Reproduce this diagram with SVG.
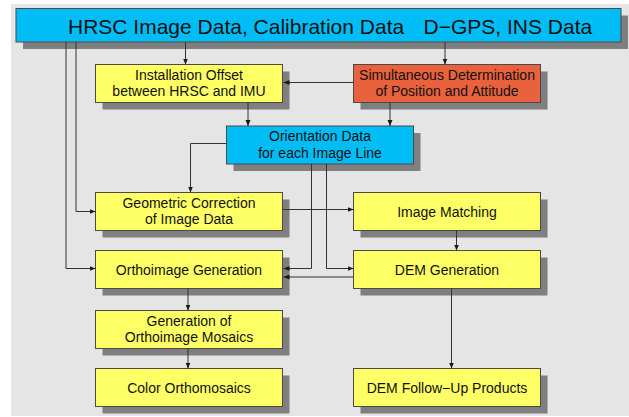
<svg xmlns="http://www.w3.org/2000/svg" width="629" height="417" viewBox="0 0 629 417">
  <defs>
    <marker id="arr" markerUnits="userSpaceOnUse" markerWidth="7" markerHeight="6" refX="6" refY="2.5" orient="auto">
      <path d="M0,0 L6,2.5 L0,5 z" fill="#1a1a1a"/>
    </marker>
  </defs>
  <style>
    .shadow { fill: #7f7f7f; }
    .box { stroke: #4a4a4a; stroke-width: 1; }
    .yellow { fill: #ffff66; }
    .blue { fill: #00bdf6; }
    .orange { fill: #e9613d; }
    .lbl { font-family: "Liberation Sans", Arial, sans-serif; font-size: 14px; fill: #111; text-anchor: middle; }
    .title { font-family: "Liberation Sans", Arial, sans-serif; font-size: 21px; fill: #111; }
    .conn { fill: none; stroke: #333; stroke-width: 1; marker-end: url(#arr); }
    .connp { fill: none; stroke: #333; stroke-width: 1; }
  </style>
  <rect x="0" y="0" width="629" height="417" fill="#ffffff"/>
  <rect x="11" y="4" width="618" height="412" fill="#e5e5e5"/>

  <g id="top">
    <rect class="shadow" x="23" y="15.5" width="605" height="33.5"/>
    <rect class="box blue" x="16" y="8.5" width="605" height="33.5"/>
    <text class="title" y="33.5"><tspan x="68">HRSC Image Data, Calibration Data</tspan><tspan x="423.5">D−GPS, INS Data</tspan></text>
  </g>

  <g id="install">
    <rect class="shadow" x="102.5" y="71.5" width="187" height="38"/>
    <rect class="box yellow" x="95.5" y="64.5" width="187" height="38"/>
    <text class="lbl" x="189" y="79.7">Installation Offset</text>
    <text class="lbl" x="189" y="96.3">between HRSC and IMU</text>
  </g>

  <g id="simul">
    <rect class="shadow" x="360.5" y="71.5" width="187" height="38"/>
    <rect class="box orange" x="353.5" y="64.5" width="187" height="38"/>
    <text class="lbl" x="447" y="79.7">Simultaneous Determination</text>
    <text class="lbl" x="447" y="96.3">of Position and Attitude</text>
  </g>

  <g id="orient">
    <rect class="shadow" x="233.5" y="133" width="187" height="38"/>
    <rect class="box blue" x="226.5" y="126" width="187" height="38"/>
    <text class="lbl" x="320" y="141.2">Orientation Data</text>
    <text class="lbl" x="320" y="157.8">for each Image Line</text>
  </g>

  <g id="geom">
    <rect class="shadow" x="102.5" y="199.5" width="187" height="38"/>
    <rect class="box yellow" x="95.5" y="192.5" width="187" height="38"/>
    <text class="lbl" x="189" y="207.7">Geometric Correction</text>
    <text class="lbl" x="189" y="224.3">of Image Data</text>
  </g>

  <g id="match">
    <rect class="shadow" x="360.5" y="199.5" width="187" height="38"/>
    <rect class="box yellow" x="353.5" y="192.5" width="187" height="38"/>
    <text class="lbl" x="447" y="216.5">Image Matching</text>
  </g>

  <g id="ortho">
    <rect class="shadow" x="102.5" y="257.5" width="187" height="38"/>
    <rect class="box yellow" x="95.5" y="250.5" width="187" height="38"/>
    <text class="lbl" x="189" y="274.5">Orthoimage Generation</text>
  </g>

  <g id="dem">
    <rect class="shadow" x="360.5" y="257.5" width="187" height="38"/>
    <rect class="box yellow" x="353.5" y="250.5" width="187" height="38"/>
    <text class="lbl" x="447" y="274.5">DEM Generation</text>
  </g>

  <g id="mosaic">
    <rect class="shadow" x="102.5" y="317.5" width="187" height="38"/>
    <rect class="box yellow" x="95.5" y="310.5" width="187" height="38"/>
    <text class="lbl" x="189" y="325.7">Generation of</text>
    <text class="lbl" x="189" y="342.3">Orthoimage Mosaics</text>
  </g>

  <g id="color">
    <rect class="shadow" x="102.5" y="375.5" width="187" height="38"/>
    <rect class="box yellow" x="95.5" y="368.5" width="187" height="38"/>
    <text class="lbl" x="189" y="392.5">Color Orthomosaics</text>
  </g>

  <g id="follow">
    <rect class="shadow" x="360.5" y="375.5" width="187" height="38"/>
    <rect class="box yellow" x="353.5" y="368.5" width="187" height="38"/>
    <text class="lbl" x="447" y="392.5">DEM Follow−Up Products</text>
  </g>

  <g id="connectors">
    <path class="conn" d="M185.5,42 V64.5"/>
    <path class="conn" d="M445,42 V64.5"/>
    <path class="conn" d="M353.5,82.5 H283.5"/>
    <path class="conn" d="M248,102.5 V126"/>
    <path class="conn" d="M390,102.5 V126"/>
    <path class="conn" d="M226.5,143.5 H190.5 V192.5"/>
    <path class="conn" d="M311.5,164 V268.5 H283.5"/>
    <path class="conn" d="M326.5,164 V268.5 H353.5"/>
    <path class="conn" d="M282.5,209.5 H353.5"/>
    <path class="conn" d="M456.5,230.5 V250.5"/>
    <path class="conn" d="M353.5,277 H283.5"/>
    <path class="conn" d="M451.5,288.5 V368.5"/>
    <path class="conn" d="M188,288.5 V310.5"/>
    <path class="conn" d="M188,348.5 V368.5"/>
    <path class="conn" d="M76,42 V211.5 H95.5"/>
    <path class="conn" d="M66,42 V268.5 H95.5"/>
  </g>
</svg>
